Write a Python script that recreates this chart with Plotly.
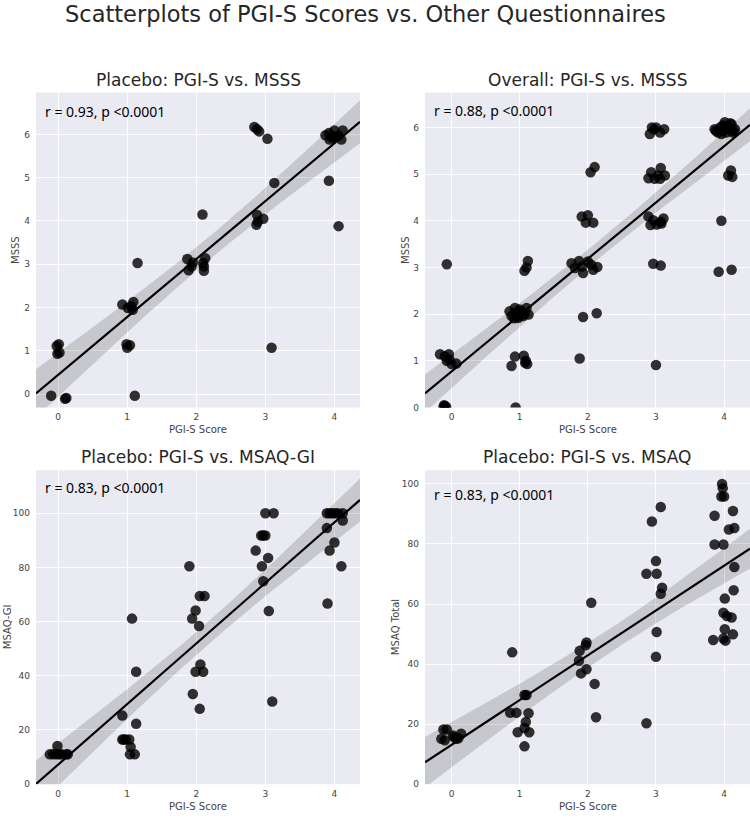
import numpy as np
import plotly.graph_objects as go

# ---------------- data ----------------
# Panel 1: Placebo PGI-S vs MSSS
p1_x = [-0.10, 0.12, 0.10, -0.02, 0.01, -0.01, 0.02,
        1.11, 0.99, 1.04, 1.00, 1.15, 0.93, 1.01, 1.08, 1.09, 1.06,
        2.09, 1.87, 1.89, 1.95, 1.93, 2.11, 2.10, 2.13, 2.11,
        3.09, 2.87, 2.88, 2.97, 2.89, 3.13, 2.84, 2.88, 2.91, 3.03,
        3.92, 4.06, 3.87, 3.92, 3.96, 4.01, 4.00, 4.10, 4.12, 4.06, 3.93, 3.98]
p1_y = [-0.04, -0.09, -0.11, 1.11, 1.15, 0.93, 0.96,
        -0.04, 1.15, 1.13, 1.07, 3.03, 2.07, 1.99, 1.95, 2.13, 2.03,
        4.15, 3.12, 2.86, 3.04, 2.95, 2.85, 3.03, 3.14, 2.95,
        1.07, 3.91, 4.14, 4.05, 3.98, 4.88, 6.17, 6.12, 6.07, 5.90,
        4.93, 3.88, 5.98, 6.03, 5.93, 5.95, 6.09, 5.88, 6.09, 5.97, 5.88, 5.95]

# Panel 2: Overall PGI-S vs MSSS (dense clusters hold overlapping points)
p2_x = [-0.11, -0.09, -0.12, -0.10, -0.08, 0.94, -0.07,
        -0.17, -0.10, -0.04, -0.07, 0.00, 0.07, -0.03,
        0.88, 0.93, 1.06, 1.09, 1.11, 1.08,
        0.85, 0.88, 0.93, 0.98, 1.03, 1.10, 1.13, 0.95, 1.05, 0.92, 1.00, 1.07, 0.96,
        1.07, 1.10, 1.12,
        1.88, 1.93, 2.13,
        1.76, 1.81, 1.87, 1.93, 1.91, 2.00, 2.05, 2.08, 2.14,
        1.91, 2.00, 1.97, 2.08,
        2.04, 2.10,
        3.00, 2.96, 3.07,
        2.89, 2.92, 2.96, 3.01, 3.08, 3.11, 3.07,
        2.89, 2.93, 2.98, 3.03, 3.07, 3.13, 3.06,
        2.91, 2.94, 3.00, 3.06, 3.12, 2.97,
        3.96, 3.92, 4.11, 4.10, 4.06, 4.12,
        3.86, 3.91, 3.99, 4.01, 4.06, 4.11, 4.13, 4.16, 3.94, 4.03, 4.08, 3.96,
        3.88, 3.98, 4.05, 4.09, 4.14, 4.00]
p2_y = [0.05, 0.02, 0.00, 0.03, 0.01, 0.00, 3.07,
        1.14, 1.10, 1.14, 1.00, 0.93, 0.94, 1.03,
        0.89, 1.09, 1.11, 1.00, 0.93, 0.96,
        2.06, 1.96, 2.13, 1.92, 2.06, 2.13, 1.99, 2.03, 1.96, 1.91, 2.10, 2.00, 1.95,
        2.93, 3.00, 3.14,
        1.05, 1.94, 2.02,
        3.09, 2.99, 3.14, 2.88, 3.02, 3.13, 3.06, 2.95, 3.01,
        4.09, 4.12, 3.96, 3.96,
        5.04, 5.15,
        0.91, 3.08, 3.04,
        4.09, 3.91, 4.01, 3.92, 3.94, 4.05, 3.98,
        4.91, 5.04, 4.90, 4.97, 5.13, 4.97, 4.90,
        5.86, 6.00, 6.00, 5.89, 5.96, 5.96,
        4.00, 2.91, 2.95, 5.08, 4.97, 4.94,
        5.96, 5.89, 5.93, 6.11, 6.00, 6.07, 5.89, 5.96, 6.00, 5.89, 5.96, 5.86,
        5.93, 6.04, 5.98, 6.09, 5.92, 6.02]

# Panel 3: Placebo PGI-S vs MSAQ-GI
p3_x = [-0.12, -0.07, -0.02, 0.02, 0.12, 0.14, -0.01, 0.05,
        0.93, 0.98, 1.03, 0.95, 0.93, 1.05, 1.04, 1.11, 1.13, 1.13, 1.07,
        1.90, 1.94, 1.99, 2.04, 2.05, 2.12, 1.99, 2.06, 2.10, 1.95, 2.05,
        3.00, 3.12, 2.94, 3.00, 2.97, 2.86, 2.95, 3.04, 2.97, 3.05, 3.10,
        3.89, 3.93, 3.97, 4.01, 4.05, 4.12, 3.89, 4.12, 4.00, 3.93, 4.10, 3.90]
p3_y = [11.0, 11.0, 11.0, 11.0, 11.0, 11.0, 14.1, 11.0,
        16.5, 16.5, 16.5, 16.5, 25.3, 13.7, 11.0, 11.0, 22.3, 41.5, 61.1,
        80.4, 61.1, 64.1, 58.4, 69.4, 69.4, 41.5, 44.2, 41.5, 33.3, 27.8,
        100.0, 100.0, 91.8, 91.8, 91.8, 86.2, 80.4, 83.5, 74.9, 63.9, 30.5,
        100.0, 100.0, 100.0, 100.0, 100.0, 100.0, 94.5, 97.3, 89.2, 86.2, 80.4, 66.7]

# Panel 4: Placebo PGI-S vs MSAQ Total
p4_x = [-0.15, -0.12, -0.07, -0.10, 0.02, 0.07, 0.14, 0.10, 0.04,
        0.89, 0.86, 0.95, 0.97, 1.07, 1.10, 1.09, 1.07, 1.14, 1.13, 1.07,
        2.05, 1.98, 1.97, 1.88, 1.87, 1.90, 1.98, 2.10, 2.12,
        3.07, 2.94, 3.00, 2.86, 3.01, 3.09, 3.07, 3.01, 3.00, 2.86,
        3.97, 3.98, 3.96, 4.00, 3.86, 4.13, 4.07, 4.15, 3.86, 3.99, 4.15,
        4.14, 4.01, 3.99, 4.04, 4.11, 4.01, 4.13, 3.84, 3.99, 4.02]
p4_y = [15.1, 18.2, 18.2, 14.6, 16.2, 15.1, 16.8, 15.3, 15.6,
        43.9, 23.8, 23.8, 17.3, 29.7, 29.7, 20.7, 12.6, 17.3, 23.6, 18.7,
        60.4, 47.2, 46.3, 44.4, 41.1, 36.9, 38.3, 33.4, 22.3,
        92.3, 87.5, 74.3, 70.1, 70.1, 65.4, 63.4, 50.7, 42.4, 20.3,
        100.0, 98.6, 95.8, 95.8, 89.4, 91.0, 84.8, 85.3, 79.8, 79.8, 72.3,
        64.6, 61.8, 57.1, 56.0, 55.5, 51.6, 49.9, 48.0, 48.5, 47.8]

titles = ["Placebo: PGI-S vs. MSSS", "Overall: PGI-S vs. MSSS",
          "Placebo: PGI-S vs. MSAQ-GI", "Placebo: PGI-S vs. MSAQ"]
y_labels = ["MSSS", "MSSS", "MSAQ-GI", "MSAQ Total"]
stat_labels = ["r = 0.93, p <0.0001", "r = 0.88, p <0.0001",
               "r = 0.83, p <0.0001", "r = 0.83, p <0.0001"]
x_ticks = [0, 1, 2, 3, 4]
y_ticks_msss = [0, 1, 2, 3, 4, 5, 6]
y_ticks_msaq = [0, 20, 40, 60, 80, 100]

# ---------------- layout geometry ----------------
W, H = 750, 819
xdoms = [(36, 360), (425, 750), (36, 360), (425, 750)]
ydoms = [(93, 410), (93, 410), (473, 789), (473, 789)]
xranges = [(-0.32, 4.37), (-0.39, 4.38), (-0.32, 4.37), (-0.39, 4.38)]
yranges = [(-0.31, 6.97), (0, 6.75), (0, 115.9), (0, 104.6)]
yticks = [y_ticks_msss, y_ticks_msss, y_ticks_msaq, y_ticks_msaq]
stat_y = [0.941, 0.944, 0.946, 0.922]
ylab_x = [16, 406, 7, 395]

data = [(p1_x, p1_y), (p2_x, p2_y), (p3_x, p3_y), (p4_x, p4_y)]

BG = "#EAEAF2"
TXT = "#262626"
FONT = "DejaVu Sans"

fig = go.Figure()
layout = dict(width=W, height=H, margin=dict(l=0, r=0, t=0, b=0),
              paper_bgcolor="white", plot_bgcolor=BG, showlegend=False)

annotations = []
for i, ((xs, ys), xr, yr) in enumerate(zip(data, xranges, yranges)):
    n = i + 1
    xa = "x" if n == 1 else f"x{n}"
    ya = "y" if n == 1 else f"y{n}"
    xs = np.array(xs)
    ys = np.array(ys)
    # scatter
    fig.add_trace(go.Scatter(x=xs, y=ys, mode="markers", xaxis=xa, yaxis=ya,
                             marker=dict(size=10.5, color="rgba(0,0,0,0.8)",
                                         line=dict(width=0)),
                             hoverinfo="x+y"))
    # regression fit with 95% CI
    slope, intercept = np.polyfit(xs, ys, 1)
    gx = np.linspace(xr[0], xr[1], 100)
    fit = intercept + slope * gx
    nn = len(xs)
    resid = ys - (intercept + slope * xs)
    s = np.sqrt(np.sum(resid ** 2) / (nn - 2))
    sxx = np.sum((xs - xs.mean()) ** 2)
    se = s * np.sqrt(1.0 / nn + (gx - xs.mean()) ** 2 / sxx)
    lo, hi = fit - 1.98 * se, fit + 1.98 * se
    fig.add_trace(go.Scatter(x=np.concatenate([gx, gx[::-1]]),
                             y=np.concatenate([hi, lo[::-1]]),
                             fill="toself", fillcolor="rgba(0,0,0,0.15)",
                             line=dict(width=0), mode="lines",
                             xaxis=xa, yaxis=ya, hoverinfo="skip"))
    fig.add_trace(go.Scatter(x=gx, y=fit, mode="lines", xaxis=xa, yaxis=ya,
                             line=dict(color="black", width=2.2),
                             hoverinfo="skip"))

    xd, yd = xdoms[i], ydoms[i]
    ax_common = dict(showgrid=True, gridcolor="white", gridwidth=1.2,
                     zeroline=False, showline=False, ticks="",
                     tickfont=dict(family=FONT, size=9, color="#444444"))
    layout["xaxis" if n == 1 else f"xaxis{n}"] = dict(
        domain=[xd[0] / W, xd[1] / W], range=list(xr), anchor=ya,
        tickvals=x_ticks, ticklabelstandoff=3, **ax_common)
    layout["yaxis" if n == 1 else f"yaxis{n}"] = dict(
        domain=[1 - yd[1] / H, 1 - yd[0] / H], range=list(yr), anchor=xa,
        tickvals=yticks[i], ticklabelstandoff=5, **ax_common)

    cx = (xd[0] + xd[1]) / 2
    # subplot title
    annotations.append(dict(text=titles[i], x=cx / W, y=1 - (yd[0] - 13) / H,
                            xref="paper", yref="paper", showarrow=False,
                            xanchor="center", yanchor="middle",
                            font=dict(family=FONT, size=17, color=TXT)))
    # x-axis title
    annotations.append(dict(text="PGI-S Score", x=cx / W, y=1 - (yd[1] + 22) / H,
                            xref="paper", yref="paper", showarrow=False,
                            xanchor="center", yanchor="middle",
                            font=dict(family=FONT, size=10, color="#444444")))
    # y-axis title
    annotations.append(dict(text=y_labels[i], x=ylab_x[i] / W,
                            y=1 - (yd[0] + yd[1]) / 2 / H,
                            xref="paper", yref="paper", showarrow=False,
                            textangle=-90, xanchor="center", yanchor="middle",
                            font=dict(family=FONT, size=10, color="#444444")))
    # correlation text
    annotations.append(dict(text=stat_labels[i], x=0.022, y=stat_y[i],
                            xref=f"{xa} domain", yref=f"{ya} domain",
                            showarrow=False, xanchor="left", yanchor="middle",
                            font=dict(family="Noto Sans", size=14, color="black")))

annotations.append(dict(text="Scatterplots of PGI-S Scores vs. Other Questionnaires",
                        x=365 / W, y=1 - 14 / H, xref="paper", yref="paper",
                        showarrow=False, xanchor="center", yanchor="middle",
                        font=dict(family=FONT, size=22.5, color=TXT)))
layout["annotations"] = annotations
fig.update_layout(**layout)
fig.write_html("out.html", config={"displayModeBar": False},
               post_script="document.body.style.margin='0';document.body.style.overflow='hidden';")
